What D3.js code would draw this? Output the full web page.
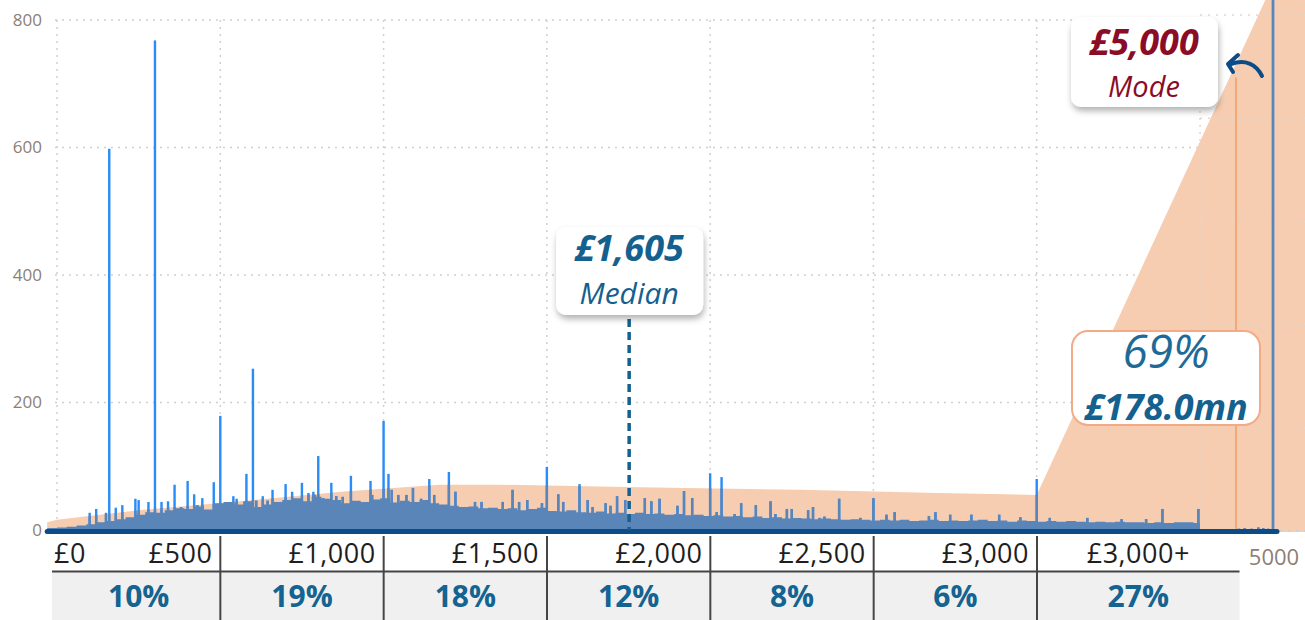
<!DOCTYPE html>
<html><head><meta charset="utf-8">
<script src="https://cdn.jsdelivr.net/npm/d3@7"></script>
<style>
body{margin:0;background:#fff;}
svg{display:block;font-family:"Open Sans",sans-serif;}
</style>
</head><body>
<svg id="chart" width="1305" height="620"></svg>
<script>
// ---------------- DATA ----------------
const yTicks = [0, 200, 400, 600, 800];
// histogram body: counts per £30 bin, starting at £-30
const massStartGBP = -30, massStepGBP = 30;
const massCounts = [3,4,5,7,9,12,14,17,20,24, 28,27,31,34,33,37,32,42,44,40,
  45,36,40,44,47,50,45,52,49,47, 42,46,44,48,50,43,46,44,47,42,
  40,38,36,37,34,35,33,34,31,33, 35,30,29,31,28,27,29,26,27,25,
  27,25,26,24,25,23,24,22,23,21, 22,20,21,19,20,18,19,18,17,18,
  17,16,17,16,15,16,15,16,14,15, 16,14,15,14,15,16,14,15,13,15,
  14,13,14,13,14,13,12,13,12,13, 12,12,11,12,11,12,12,11];
const massEndGBP = 3500;
// individual popular amounts [£, count]
const spikeAmounts = [100,120,150,160,180,200,240,250,280,300,320,340,360,400,420,445,480,500,540,580,
  600,630,660,700,720,750,770,785,800,840,900,960,1000,1015,1025,1090,1140,1200,1220,1395,
  1440,1500,1535,1600,1625,1715,1740,1800,1820,1845,1900,1920,1945,2000,2035,2095,2140,2185,2250,2300,
  2315,2395,2500,2690,2885,3000,3260,3385,3495];
const spikeCounts = [27,33,27,598,35,39,49,47,44,768,44,45,71,77,56,50,75,179,53,88,
  253,53,63,72,60,74,58,60,116,74,85,77,171,88,63,66,80,91,60,63,
  47,99,56,72,47,53,47,50,45,49,38,61,50,89,83,42,39,45,33,31,
  36,49,50,28,24,80,17,33,33];
// smaller amounts that stand just above the body
const minorAmounts = [380,430,550,610,645,685,790,815,855,875,920,965,1045,1070,1115,1155,1280,1300,1365,1415,
  1485,1550,1640,1680,1695,2020,2075,2200,2235,2335,2350,2460,2540,2565,2670,2735,2800,2950,3040,3155,3335];
const minorCounts = [36,39,49,46,46,44,55,50,53,52,44,55,55,55,49,55,44,44,44,44,
  42,44,36,42,38,28,25,25,33,19,21,19,24,28,22,24,24,20,19,19,17];
const tailAmounts = [4300, 4420, 4560, 4700, 4800, 4900];
const tailCounts = [2, 3, 2, 4, 3, 2];
const modeAmount = 5000, modeCount = 1600;
// cumulative value curve (drawn on the count axis)
const shareAmounts = [-30, 0, 250, 560, 870, 1170, 1360, 1785, 2275, 2700, 3000, 4840, 5700];
const shareLevels  = [12, 16, 31, 45, 60, 71, 71, 67, 63, 58, 55, 831, 1400];
const orangeMarkerAmount = 4240, orangeMarkerTop = 710;
const medianText = "£1,605", medianWord = "Median", medianMarkerGBP = 1752;
const modeText = "£5,000", modeWord = "Mode";
const shareText = "69%", valueText = "£178.0mn";
const firstLabel = "£0";
const bandEdges = [0, 500, 1000, 1500, 2000, 2500, 3000, 3620];
const bandLabels = ["£500", "£1,000", "£1,500", "£2,000", "£2,500", "£3,000", "£3,000+"];
const bandShares = ["10%", "19%", "18%", "12%", "8%", "6%", "27%"];
const gridAmounts = [0, 500, 1000, 1500, 2000, 2500, 3000];
const secondaryTicks = [0, 1, 2, 3, 4, 5];

// ---------------- COLOURS ----------------
const C = {
  peach: "#f6cdb1", orangeLine: "#f3a878", spike: "#2a8cf6", body: "#5a85b9",
  axis: "#0b4c86", grid: "#cfcfcf", gridOver: "#e3d6cc", tick: "#8c8074",
  median: "#14608e", mode: "#8b0c27", pct: "#146391", label: "#1e1e1e",
  tableLine: "#454545", tableBg: "#f0f0f0"
};

// ---------------- SCALES ----------------
const x = d3.scaleLinear().domain([0, 3500, 5000]).range([57, 1200, 1273]);
const y = d3.scaleLinear().domain([0, 800]).range([530, 20]);
const y2 = d3.scaleLinear().domain([0, 5]).range([531, 15]);
const tx = d3.scaleLinear().domain([0, 3000]).range([57, 1037]);

const svg = d3.select("#chart");
const defs = svg.append("defs");
const sh = defs.append("filter").attr("id", "shadow").attr("x", "-20%").attr("y", "-20%").attr("width", "140%").attr("height", "150%");
sh.append("feDropShadow").attr("dx", 1).attr("dy", 4).attr("stdDeviation", 3).attr("flood-color", "#000").attr("flood-opacity", 0.3);

defs.append("clipPath").attr("id", "plot").append("rect").attr("x", 0).attr("y", 0).attr("width", 1305).attr("height", 532);

const sharePts = shareAmounts.map((a, i) => [a, shareLevels[i]]);
const shareArea = d3.area().x(d => x(d[0])).y0(y(0) + 2).y1(d => y(d[1]));
defs.append("clipPath").attr("id", "shareClip").append("path").attr("d", shareArea(sharePts));

// ---------------- GRID (under) ----------------
const g = svg.append("g").attr("clip-path", "url(#plot)");
g.selectAll("line.hg").data(yTicks.slice(1)).join("line")
  .attr("x1", 55).attr("x2", x(3500)).attr("y1", d => y(d)).attr("y2", d => y(d))
  .attr("stroke", C.grid).attr("stroke-width", 1.5).attr("stroke-dasharray", "2,5");
g.selectAll("line.vg").data(gridAmounts).join("line")
  .attr("x1", d => x(d)).attr("x2", d => x(d)).attr("y1", y(800)).attr("y2", y(0))
  .attr("stroke", C.grid).attr("stroke-width", 1.5).attr("stroke-dasharray", "2,5");

// ---------------- ORANGE AREA ----------------
g.append("path").attr("d", shareArea(sharePts)).attr("fill", C.peach);

// grid over the orange
g.append("line").attr("x1", x(3500)).attr("x2", x(3500)).attr("y1", y(800)).attr("y2", y(0))
  .attr("stroke", C.gridOver).attr("stroke-width", 1.5).attr("stroke-dasharray", "2,5");
g.selectAll("line.g2").data(secondaryTicks).join("line")
  .attr("x1", x(3500)).attr("x2", 1305).attr("y1", d => y2(d)).attr("y2", d => y2(d))
  .attr("stroke", d => d === 0 ? "#b9d3ee" : C.gridOver).attr("stroke-width", 1.5).attr("stroke-dasharray", "2,6");

// orange marker
g.append("line").attr("x1", x(orangeMarkerAmount)).attr("x2", x(orangeMarkerAmount))
  .attr("y1", y(orangeMarkerTop)).attr("y2", y(0)).attr("stroke", C.orangeLine).attr("stroke-width", 2);

// ---------------- BARS ----------------
const spikes = spikeAmounts.map((a, i) => [a, spikeCounts[i]])
  .concat(minorAmounts.map((a, i) => [a, minorCounts[i]]))
  .concat(tailAmounts.map((a, i) => [a, tailCounts[i]]))
  .concat([[modeAmount, modeCount]]);
const bw = 2.4;
g.append("g").selectAll("rect").data(spikes).join("rect")
  .attr("x", d => x(d[0]) - bw / 2).attr("width", bw)
  .attr("y", d => y(d[1])).attr("height", d => y(0) - y(d[1]))
  .attr("fill", C.spike);
g.append("g").attr("clip-path", "url(#shareClip)").selectAll("rect").data(spikes).join("rect")
  .attr("x", d => x(d[0]) - bw / 2).attr("width", bw)
  .attr("y", d => y(d[1])).attr("height", d => y(0) - y(d[1]))
  .attr("fill", C.body);

const massPts = massCounts.map((c, i) => [massStartGBP + i * massStepGBP, c]);
massPts.push([massEndGBP, massCounts[massCounts.length - 1]]);
const massArea = d3.area().curve(d3.curveStepAfter).x(d => x(d[0])).y0(y(0)).y1(d => y(d[1]));
g.append("path").attr("fill", C.body).attr("d", massArea(massPts));

// ---------------- AXIS ----------------
svg.append("line").attr("x1", x(massStartGBP)).attr("x2", x(modeAmount) + 4)
  .attr("y1", y(0) + 1.5).attr("y2", y(0) + 1.5)
  .attr("stroke", C.axis).attr("stroke-width", 5).attr("stroke-linecap", "round");

svg.selectAll("text.yt").data(yTicks).join("text")
  .attr("x", 42).attr("y", d => y(d)).attr("dy", "0.35em").attr("text-anchor", "end")
  .attr("font-size", 17).attr("fill", C.tick).text(d => d);
svg.append("text").attr("x", x(modeAmount) + 1).attr("y", 565).attr("text-anchor", "middle")
  .attr("font-size", 22).attr("fill", C.tick).text(modeAmount);

// ---------------- MEDIAN ----------------
const mx = x(medianMarkerGBP);
svg.append("line").attr("x1", mx).attr("x2", mx).attr("y1", 319).attr("y2", y(0))
  .attr("stroke", C.median).attr("stroke-width", 3.5).attr("stroke-dasharray", "8,5");
svg.append("rect").attr("x", mx - 73).attr("y", 227).attr("width", 147).attr("height", 88).attr("rx", 10)
  .attr("fill", "#fff").attr("filter", "url(#shadow)");
svg.append("text").attr("x", mx).attr("y", 261).attr("text-anchor", "middle")
  .attr("font-size", 36).attr("font-weight", 700).attr("font-style", "italic").attr("fill", C.median).text(medianText);
svg.append("text").attr("x", mx).attr("y", 304).attr("text-anchor", "middle")
  .attr("font-size", 30).attr("font-style", "italic").attr("fill", C.median).text(medianWord);

// ---------------- MODE ----------------
const mdx = x(modeAmount) - 129;
svg.append("rect").attr("x", mdx - 73).attr("y", 17).attr("width", 147).attr("height", 90).attr("rx", 10)
  .attr("fill", "#fff").attr("filter", "url(#shadow)");
svg.append("text").attr("x", mdx).attr("y", 55).attr("text-anchor", "middle")
  .attr("font-size", 36).attr("font-weight", 700).attr("font-style", "italic").attr("fill", C.mode).text(modeText);
svg.append("text").attr("x", mdx).attr("y", 97).attr("text-anchor", "middle")
  .attr("font-size", 29).attr("font-style", "italic").attr("fill", C.mode).text(modeWord);
svg.append("path").attr("d", "M1231,64 C1245,59 1256,64 1262,76")
  .attr("fill", "none").attr("stroke", C.axis).attr("stroke-width", 4).attr("stroke-linecap", "round");
svg.append("path").attr("d", "M1238,55 L1228,64 L1233,72")
  .attr("fill", "none").attr("stroke", C.axis).attr("stroke-width", 4).attr("stroke-linecap", "round").attr("stroke-linejoin", "round");

// ---------------- SHARE BOX ----------------
svg.append("rect").attr("x", 1072).attr("y", 331).attr("width", 188).attr("height", 94).attr("rx", 16)
  .attr("fill", "#fff").attr("stroke", "#f3ab86").attr("stroke-width", 2);
svg.append("text").attr("x", 1166).attr("y", 368).attr("text-anchor", "middle")
  .attr("font-size", 46).attr("font-style", "italic").attr("fill", "#1d6a98").text(shareText);
svg.append("text").attr("x", 1166).attr("y", 420).attr("text-anchor", "middle")
  .attr("font-size", 36).attr("font-weight", 700).attr("font-style", "italic").attr("fill", C.median).text(valueText);

// ---------------- TABLE ----------------
const t = svg.append("g");
const left = tx(bandEdges[0]) - 5, right = tx(bandEdges[bandEdges.length - 1]);
t.append("rect").attr("x", left).attr("y", 572).attr("width", right - left).attr("height", 48).attr("fill", C.tableBg);
t.append("line").attr("x1", left).attr("x2", right).attr("y1", 571.5).attr("y2", 571.5)
  .attr("stroke", C.tableLine).attr("stroke-width", 2);
t.selectAll("line.sep").data(bandEdges.slice(1, -1)).join("line")
  .attr("x1", d => tx(d)).attr("x2", d => tx(d)).attr("y1", 536).attr("y2", 620)
  .attr("stroke", C.tableLine).attr("stroke-width", 2);
t.append("text").attr("x", left + 2).attr("y", 563).attr("font-size", 27).attr("letter-spacing", 0.5)
  .attr("fill", C.label).text(firstLabel);
t.selectAll("text.lab").data(bandLabels).join("text")
  .attr("x", (d, i) => i < bandLabels.length - 1 ? tx(bandEdges[i + 1]) - 8 : (tx(bandEdges[i]) + tx(bandEdges[i + 1])) / 2)
  .attr("text-anchor", (d, i) => i < bandLabels.length - 1 ? "end" : "middle")
  .attr("y", 563).attr("font-size", 27).attr("letter-spacing", 0.5).attr("fill", C.label).text(d => d);
t.selectAll("text.pct").data(bandShares).join("text")
  .attr("x", (d, i) => (Math.max(left, tx(bandEdges[i])) + tx(bandEdges[i + 1])) / 2)
  .attr("y", 607).attr("text-anchor", "middle").attr("font-size", 30).attr("font-weight", 700)
  .attr("fill", C.pct).text(d => d);
</script>
</body></html>
